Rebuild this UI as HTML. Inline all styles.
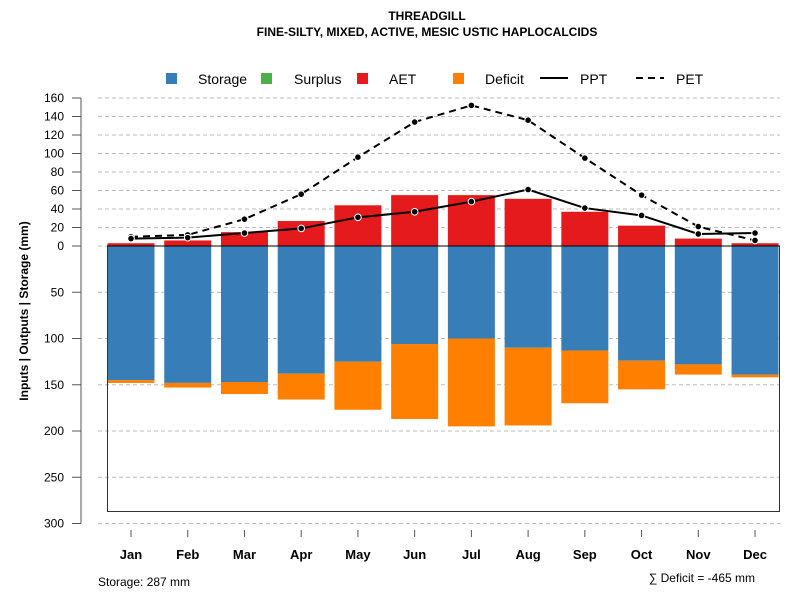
<!DOCTYPE html>
<html><head><meta charset="utf-8"><style>body{margin:0;background:#fff}svg{display:block;font-family:"Liberation Sans",sans-serif}</style></head>
<body>
<svg id="c" width="800" height="600" xmlns="http://www.w3.org/2000/svg">
<text x="427" y="20" text-anchor="middle" font-size="12" font-weight="bold">THREADGILL</text>
<text x="427" y="36" text-anchor="middle" font-size="12" font-weight="bold">FINE-SILTY, MIXED, ACTIVE, MESIC USTIC HAPLOCALCIDS</text>
<g id="legend"></g>
<g id="grid"></g><g id="bars"></g><g id="lines"></g><g id="axes"></g>
<text transform="translate(28,311) rotate(-90)" text-anchor="middle" font-size="12" font-weight="bold">Inputs | Outputs | Storage     (mm)</text>
<text x="98" y="586" font-size="12">Storage: 287 mm</text>
<text x="755" y="582" text-anchor="end" font-size="12">∑ Deficit = -465 mm</text>
</svg>
<script>
const months=["Jan","Feb","Mar","Apr","May","Jun","Jul","Aug","Sep","Oct","Nov","Dec"];
const aet=[3,6,15,27,44,55,55,51,37,22,8,3];
const storage=[145,148,147,138,125,106,100,110,113,124,128,139];
const deficit=[3,5,13,28,52,81,95,84,57,31,11,3];
const ppt=[8,9,14,19,31,37,48,61,41,33,13,14];
const pet=[10,12,29,56,96,134,152,136,95,55,21,6];
const upTicks=[0,20,40,60,80,100,120,140,160];
const downTicks=[50,100,150,200,250,300];
const storageTotal=287;
const NS="http://www.w3.org/2000/svg";
const sc=148/160;
const Y=v=>246-v*sc;
const X=i=>131+i*56.73;
const bw=47;
function mk(p,t,a){const e=document.createElementNS(NS,t);for(const k in a)e.setAttribute(k,a[k]);document.getElementById(p).appendChild(e);return e;}
// grid + axis
upTicks.forEach(t=>{let l=mk('grid','line',{x1:98,x2:780,y1:Y(t),y2:Y(t),stroke:'#bbb','stroke-dasharray':'4,3'});
});
downTicks.forEach(t=>{let l=mk('grid','line',{x1:98,x2:780,y1:Y(-t),y2:Y(-t),stroke:'#bbb','stroke-dasharray':'4,3'});
});
let ax=mk('axes','line',{x1:81,x2:81,y1:Y(160),y2:Y(-300),stroke:'#555'});

upTicks.concat(downTicks.map(t=>-t)).forEach(t=>{
let tk=mk('axes','line',{x1:72,x2:81,y1:Y(t),y2:Y(t),stroke:'#555'});

let tx=mk('axes','text',{x:64,y:Y(t)+4,'text-anchor':'end','font-size':12});tx.textContent=Math.abs(t);
});
months.forEach((m,i)=>{
let tk=mk('axes','line',{x1:X(i),x2:X(i),y1:530,y2:537,stroke:'#555'});

let tx=mk('axes','text',{x:X(i),y:559,'text-anchor':'middle','font-size':13,'font-weight':'bold'});tx.textContent=m;
});
// bars
months.forEach((m,i)=>{
let a=mk('bars','rect',{x:X(i)-bw/2,y:Y(aet[i]),width:bw,height:aet[i]*sc,fill:'#e41a1c'});

let s=mk('bars','rect',{x:X(i)-bw/2,y:246,width:bw,height:storage[i]*sc,fill:'#377eb8'});

let d=mk('bars','rect',{x:X(i)-bw/2,y:Y(-storage[i]),width:bw,height:deficit[i]*sc,fill:'#ff7f00'});
});
let box=mk('bars','path',{d:`M107.5 246 V${Y(-storageTotal)} H779.5 V246`,fill:'none',stroke:'#333'});

let zl=mk('bars','line',{x1:107,x2:780,y1:246,y2:246,stroke:'#000'});

// lines
function series(v,dash,name){
let p=mk('lines','polyline',{points:v.map((d,i)=>X(i)+','+Y(d)).join(' '),fill:'none',stroke:'#000','stroke-width':2,'stroke-dasharray':dash});

v.forEach((d,i)=>{let c=mk('lines','circle',{cx:X(i),cy:Y(d),r:3.3,fill:'#000',stroke:'#fff','stroke-width':1});
});}
series(pet,'7,5','pet');series(ppt,'none','ppt');
// legend
const lg=[["Storage","#377eb8",166,198],["Surplus","#4daf4a",261,294],["AET","#e41a1c",357,389],["Deficit","#ff7f00",453,485]];
lg.forEach(l=>{let r=mk('legend','rect',{x:l[2],y:73,width:11,height:11,fill:l[1]});

let t=mk('legend','text',{x:l[3],y:84,'font-size':14});t.textContent=l[0];
});
let l1=mk('legend','line',{x1:540,x2:568,y1:78,y2:78,stroke:'#000','stroke-width':2});

let t1=mk('legend','text',{x:580,y:84,'font-size':14});t1.textContent='PPT';

let l2=mk('legend','line',{x1:636,x2:664,y1:78,y2:78,stroke:'#000','stroke-width':2,'stroke-dasharray':'7,5'});

let t2=mk('legend','text',{x:676,y:84,'font-size':14});t2.textContent='PET';

</script>
</body></html>
